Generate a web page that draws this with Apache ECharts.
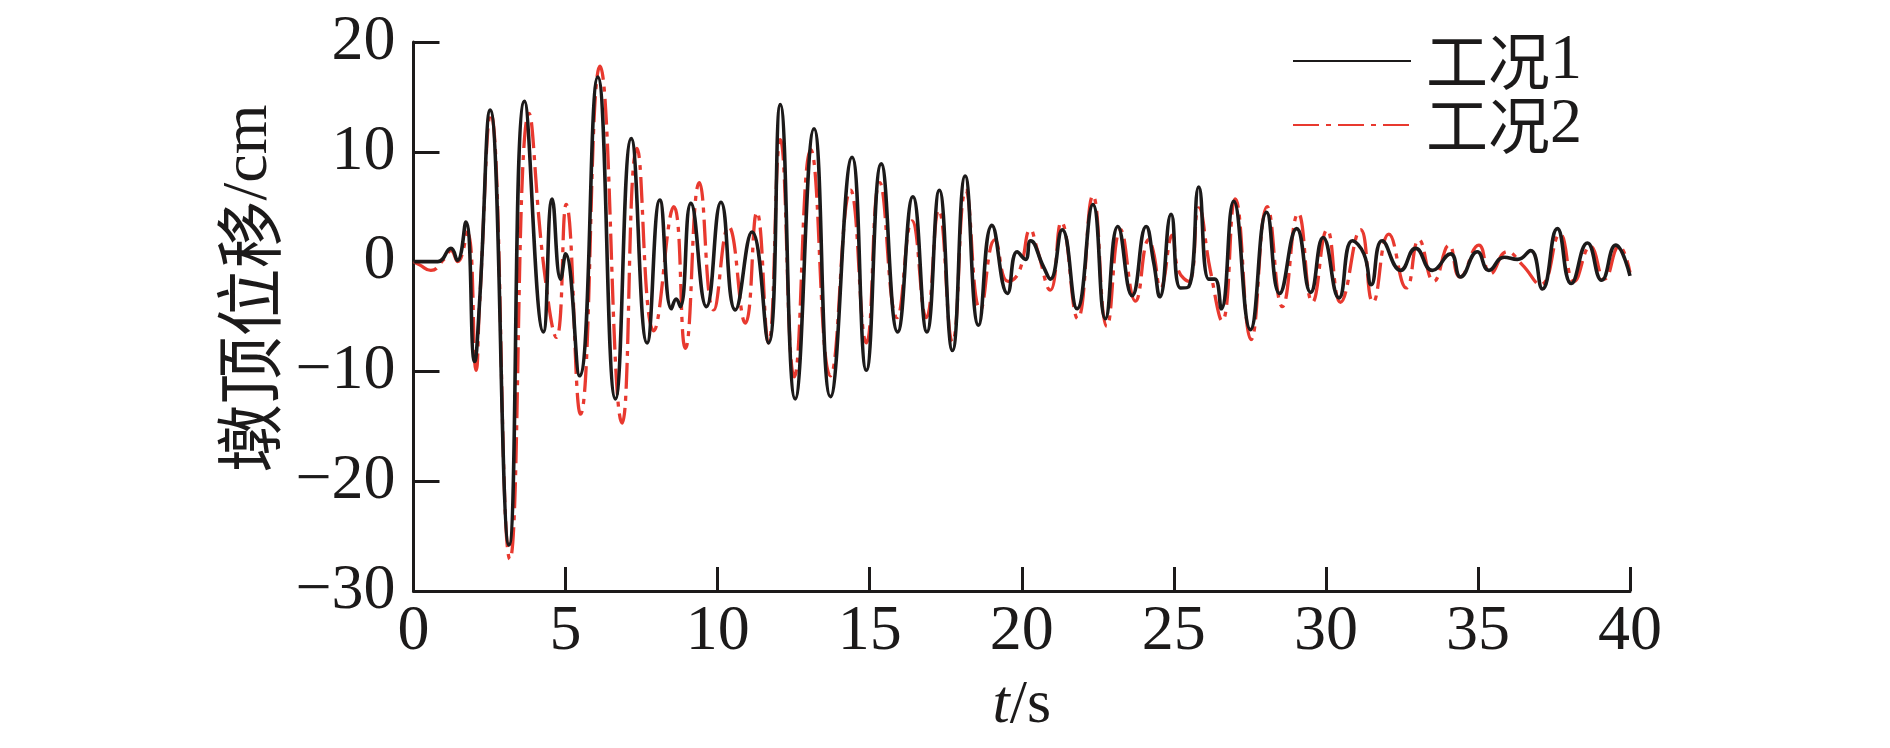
<!DOCTYPE html>
<html>
<head>
<meta charset="utf-8">
<script src="https://cdn.jsdelivr.net/npm/echarts@6/dist/echarts.min.js"></script>
<style>
  html, body { margin: 0; padding: 0; background: #ffffff; }
  #chart { width: 1890px; height: 748px; }
</style>
</head>
<body>
<div id="chart"></div>
<script>
// 工况1 (solid black): time (s) and pier-top displacement (cm)
const t1 = [0, 0.8, 1.23, 1.44, 1.72, 2.01, 2.17, 2.52, 3.14, 3.65, 4.27, 4.56, 4.84, 5.0, 5.46, 6.06,
  6.64, 7.16, 7.68, 8.10, 8.48, 8.64, 8.77, 9.12, 9.63, 10.11, 10.58, 11.13, 11.67, 12.06, 12.55, 13.17,
  13.71, 14.42, 14.89, 15.38, 15.92, 16.42, 16.88, 17.29, 17.72, 18.14, 18.58, 19.02, 19.53, 19.85, 20.12,
  20.29, 20.72, 20.94, 21.33, 21.82, 22.34, 22.75, 23.16, 23.63, 24.09, 24.34, 24.54, 24.91, 25.22, 25.49,
  25.82, 26.15, 26.35, 26.56, 26.97, 27.52, 28.05, 28.48, 29.04, 29.5, 29.91, 30.43, 30.87, 31.25, 31.49,
  31.85, 32.46, 32.95, 33.5, 34.1, 34.43, 34.98, 35.36, 35.86, 36.3, 36.73, 37.12, 37.61, 38.07, 38.6,
  39.07, 39.53, 40.0];
const disp1 = [0, 0, 1.2, 0.1, 3.6, -9.1, -3.8, 13.8, -25.8, 14.6, -6.4, 5.7, -1.6, 0.7, -10.4, 16.8,
  -12.5, 11.2, -7.4, 5.6, -4.3, -3.4, -4.1, 5.3, -4.1, 5.4, -4.4, 2.7, -7.4, 14.3, -12.5, 12.1,
  -12.3, 9.5, -9.9, 8.9, -6.4, 5.9, -6.4, 6.5, -8.1, 7.8, -5.8, 3.3, -2.9, 0.9, 0.2,
  1.9, -0.5, -1.6, 2.9, -4.3, 5.2, -5.2, 3.2, -3.1, 3.2, -0.1, -3.2, 4.3, -2.4, -2.3,
  6.8, -1.6, -1.6, -4.3, 5.5, -6.2, 4.5, -2.9, 3.0, -2.8, 2.2, -3.3, 1.9, 0.7, -2.1,
  1.9, -0.8, 1.2, -0.8, 0.7, -1.4, 0.9, -0.8, 0.4, 0.2, 1.0, -2.5, 3.0, -2.0, 1.7,
  -1.7, 1.5, -1.3];

// 工况2 (red dash-dot)
const t2 = [0, 0.2, 0.57, 1.0, 1.23, 1.45, 1.77, 2.06, 2.17, 2.54, 3.17, 3.8, 4.29, 4.7, 5.02, 5.49,
  6.13, 6.86, 7.35, 7.9, 8.56, 8.94, 9.40, 9.87, 10.36, 10.91, 11.29, 11.67, 12.06, 12.52, 13.06,
  13.71, 14.37, 14.89, 15.33, 15.90, 16.39, 16.86, 17.27, 17.72, 18.16, 18.64, 19.12, 19.55, 19.9,
  20.29, 20.5, 20.94, 21.3, 21.84, 22.34, 22.80, 23.25, 23.74, 24.18, 24.32, 24.57, 24.95, 25.15,
  25.49, 25.82, 26.2, 26.59, 27.02, 27.54, 28.07, 28.57, 29.09, 29.56, 30.04, 30.48, 31.14, 31.55,
  32.07, 32.65, 33.06, 33.55, 34.05, 34.41, 35.03, 35.41, 35.96, 36.46, 37.06, 37.7, 38.16, 38.7,
  39.16, 39.64, 40.0];
const disp2 = [0, -0.3, -0.8, 0.2, 1.0, 0.0, 2.7, -9.9, -4.0, 13.5, -27.1, 13.5, -0.6, -6.9, 5.2, -13.9,
  17.8, -14.7, 10.3, -6.3, 5.0, -7.9, 7.2, -4.4, 3.2, -5.6, 4.5, -7.4, 11.1, -10.5, 10.2,
  -10.4, 6.5, -7.4, 7.2, -5.1, 3.7, -5.1, 4.7, -7.3, 6.5, -4.4, 2.0, -1.8, -1.0,
  2.9, 1.2, -2.6, 3.6, -5.2, 6.0, -5.9, 2.9, -3.6, 2.0, 1.0, -2.4, 2.4, -0.8,
  -1.8, 4.9, -0.8, -5.4, 5.7, -7.1, 5.0, -4.1, 4.4, -3.7, 2.9, -3.7, 2.9, -3.7,
  2.5, -2.4, 2.0, -1.8, 1.5, -1.4, 1.5, -1.1, 0.9, -0.3, -2.1, 2.5, -1.8, 1.4,
  -1.6, 1.4, -1.0];

const seriesNames = ["工况1", "工况2"];
const xTicks = [0, 40, 5];    // min, max, step
const yTicks = [-30, 20, 10];

const SERIF = '"Liberation Serif", serif';
const CJK = '"Noto Sans CJK SC", sans-serif';
const INK = "#1c1a1a";
const RED = "#e8392f";

const chart = echarts.init(document.getElementById("chart"), null, { renderer: "canvas" });

chart.setOption({
  backgroundColor: "#ffffff",
  animation: false,
  textStyle: { fontFamily: SERIF, color: INK },
  grid: { left: 413.5, right: 260, top: 42, bottom: 157, containLabel: false },
  legend: {
    orient: "vertical",
    left: 1287,
    top: 24,
    itemWidth: 118,
    itemHeight: 2,
    itemGap: 0,
    data: seriesNames,
    itemStyle: { opacity: 0 },
    formatter: (name) => "{c|" + name.slice(0, 2) + "}{l|" + name.slice(2) + "}",
    textStyle: {
      color: INK,
      rich: {
        c: { fontFamily: CJK, fontSize: 62, color: INK, lineHeight: 61, padding: [0, 0, 0, 10] },
        l: { fontFamily: SERIF, fontSize: 64, color: INK, lineHeight: 61 },
      },
    },
  },
  xAxis: {
    type: "value",
    min: xTicks[0], max: xTicks[1], interval: xTicks[2],
    name: "{i|t}/s",
    nameLocation: "middle",
    nameGap: 84,
    nameTextStyle: {
      fontFamily: SERIF, fontSize: 62, color: INK,
      rich: { i: { fontFamily: SERIF, fontSize: 62, fontStyle: "italic", color: INK } },
    },
    axisLine: { onZero: false, lineStyle: { color: INK, width: 3 } },
    axisTick: { inside: true, length: 24, lineStyle: { color: INK, width: 3 } },
    axisLabel: { fontFamily: SERIF, fontSize: 64, color: INK, margin: 9 },
    splitLine: { show: false },
  },
  yAxis: {
    type: "value",
    min: yTicks[0], max: yTicks[1], interval: yTicks[2],
    name: "{c|墩顶位移}{l|/cm}",
    nameLocation: "middle",
    nameGap: 130,
    nameTextStyle: {
      color: INK,
      rich: {
        c: { fontFamily: CJK, fontSize: 68, color: INK, padding: [0, 0, 0, 56] },
        l: { fontFamily: SERIF, fontSize: 64, color: INK },
      },
    },
    axisLine: { onZero: false, lineStyle: { color: INK, width: 3 } },
    axisTick: { inside: true, length: 26, lineStyle: { color: INK, width: 3 } },
    axisLabel: {
      fontFamily: SERIF, fontSize: 64, color: INK, margin: 18,
      formatter: (v) => String(v).replace("-", "\u2212"),
    },
    splitLine: { show: false },
  },
  series: [
    {
      name: seriesNames[0],
      type: "line",
      data: t1.map((t, i) => [t, disp1[i]]),
      smooth: 0.5,
      showSymbol: false,
      symbol: "none",
      lineStyle: { color: INK, width: 3.6, type: "solid" },
      itemStyle: { color: INK },
      z: 3,
    },
    {
      name: seriesNames[1],
      type: "line",
      data: t2.map((t, i) => [t, disp2[i]]),
      smooth: 0.5,
      showSymbol: false,
      symbol: "none",
      lineStyle: { color: RED, width: 3.3, type: [26, 7, 5, 7] },
      itemStyle: { color: RED },
      z: 2,
    },
  ],
});
</script>
</body>
</html>
